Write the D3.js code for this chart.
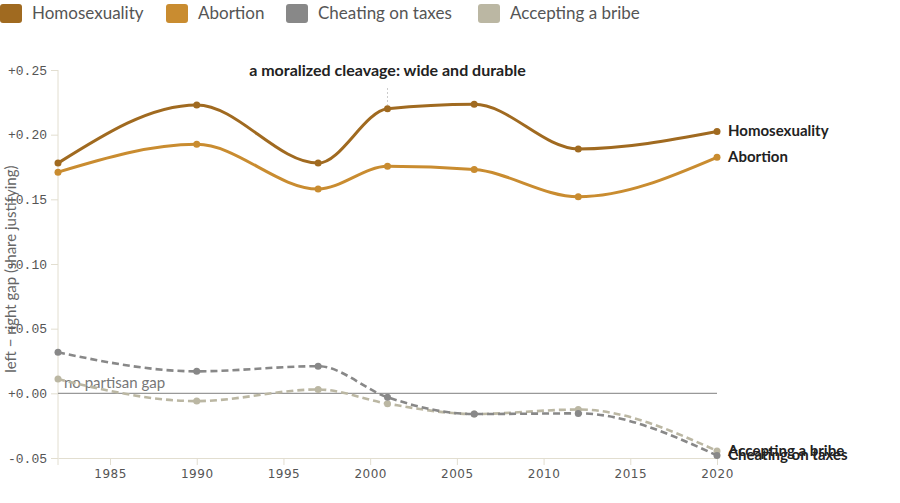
<!DOCTYPE html>
<html>
<head>
<meta charset="utf-8">
<script src="https://cdn.jsdelivr.net/npm/d3@7"></script>
<style>
  body { margin: 0; background: #fff; }
  svg { display: block; font-family: Lato, "Open Sans", sans-serif; }
</style>
</head>
<body>
<div id="chart"></div>
<script>
// survey waves
var years = [1982, 1990, 1997, 2001, 2006, 2012, 2020];

// left - right gap in share justifying
var homosexuality = [0.178, 0.223, 0.178, 0.220, 0.2235, 0.189, 0.2025];
var abortion = [0.171, 0.1925, 0.158, 0.1755, 0.173, 0.152, 0.1825];
var cheating = [0.0317, 0.017, 0.021, -0.003, -0.016, -0.0155, -0.048];
var bribe = [0.011, -0.006, 0.003, -0.008, -0.016, -0.0125, -0.0445];

var seriesNames = ["Homosexuality", "Abortion", "Cheating on taxes", "Accepting a bribe"];
var seriesValues = [homosexuality, abortion, cheating, bribe];
var yTicks = [-0.05, 0, 0.05, 0.10, 0.15, 0.20, 0.25];
var xTicks = [1985, 1990, 1995, 2000, 2005, 2010, 2015, 2020];

var colors = ["#a06a20", "#c98c30", "#888888", "#bbb7a3"];
var dashed = [false, false, true, true];

var width = 900, height = 503;

var x = d3.scaleLinear().domain([1982, 2020]).range([58, 717]);
var y = d3.scaleLinear().domain([-0.05, 0.25]).range([458, 70]);

var svg = d3.select("#chart").append("svg")
    .attr("width", width)
    .attr("height", height);

/** legend **/
var legendX = [0, 166, 286, 478];
var legend = svg.append("g").attr("class", "legend");
seriesNames.forEach(function (name, i) {
    var item = legend.append("g").attr("transform", "translate(" + legendX[i] + ",4)");
    item.append("rect")
        .attr("width", 22).attr("height", 19)
        .attr("rx", 3)
        .attr("fill", colors[i]);
    item.append("text")
        .attr("x", 32).attr("y", 15)
        .attr("fill", "#555")
        .style("font-size", "17px")
        .text(name);
});

/** axes **/
var yAxis = svg.append("g")
    .attr("transform", "translate(58,0)")
    .call(d3.axisLeft(y).tickValues(yTicks).tickSize(7).tickSizeOuter(0).tickFormat(function (d) {
        return d3.format("+.2f")(d).replace("−", "-");
    }));
yAxis.select(".domain")
    .attr("stroke", "#e2ded0")
    .attr("d", "M0," + y(0.25) + "V" + (y(-0.05) + 7));
yAxis.selectAll(".tick line").attr("stroke", "#e2ded0");
yAxis.selectAll(".tick text")
    .attr("fill", "#555")
    .attr("x", -11)
    .style("font-family", "'Liberation Mono', 'Courier New', monospace")
    .style("font-size", "13px");

var xAxis = svg.append("g")
    .attr("transform", "translate(0," + y(-0.05) + ")")
    .call(d3.axisBottom(x).tickValues(xTicks).tickSize(7).tickSizeOuter(0).tickFormat(d3.format("d")));
xAxis.select(".domain").attr("stroke", "#e2ded0");
xAxis.selectAll(".tick line").attr("stroke", "#e2ded0");
xAxis.selectAll(".tick text")
    .attr("fill", "#555")
    .attr("y", 11)
    .style("font-family", "'DejaVu Sans', Verdana, sans-serif")
    .style("letter-spacing", "0.5px")
    .style("font-size", "12px");

svg.append("text")
    .attr("transform", "translate(16," + y(0.096) + ") rotate(-90)")
    .attr("text-anchor", "middle")
    .attr("fill", "#666")
    .style("font-size", "15px")
    .text("left \u2212 right gap (share justifying)");

/** zero reference line **/
svg.append("line")
    .attr("x1", x(1982)).attr("x2", x(2020))
    .attr("y1", y(0)).attr("y2", y(0))
    .attr("stroke", "#999")
    .attr("stroke-width", 1.2);

svg.append("text")
    .attr("x", x(1982) + 6).attr("y", y(0) - 5)
    .attr("fill", "#777")
    .style("font-size", "15px")
    .text("no partisan gap");

/** annotation **/
svg.append("line")
    .attr("x1", x(2001)).attr("x2", x(2001))
    .attr("y1", 88).attr("y2", y(homosexuality[3]) - 4)
    .attr("stroke", "#ccc")
    .attr("stroke-dasharray", "2,2");

svg.append("text")
    .attr("x", x(2001)).attr("y", 76)
    .attr("text-anchor", "middle")
    .attr("fill", "#222")
    .style("font-size", "16px")
    .style("font-weight", "bold")
    .text("a moralized cleavage: wide and durable");

/** lines **/
var line = d3.line()
    .x(function (d) { return x(d[0]); })
    .y(function (d) { return y(d[1]); })
    .curve(d3.curveMonotoneX);

var order = [3, 2, 1, 0];
order.forEach(function (i) {
    var pts = years.map(function (yr, j) { return [yr, seriesValues[i][j]]; });
    var g = svg.append("g").attr("class", "series");
    g.append("path")
        .datum(pts)
        .attr("fill", "none")
        .attr("stroke", colors[i])
        .attr("stroke-width", dashed[i] ? 2.6 : 3)
        .attr("stroke-dasharray", dashed[i] ? "7,4" : null)
        .attr("d", line);
    g.selectAll("circle")
        .data(pts)
        .enter().append("circle")
        .attr("cx", function (d) { return x(d[0]); })
        .attr("cy", function (d) { return y(d[1]); })
        .attr("r", 3.5)
        .attr("fill", colors[i]);
    g.append("text")
        .attr("x", x(2020) + 11)
        .attr("y", y(pts[pts.length - 1][1]) + 5)
        .attr("fill", "#222")
        .style("font-size", "15px")
        .style("font-weight", "bold")
        .text(seriesNames[i]);
});
</script>
</body>
</html>
